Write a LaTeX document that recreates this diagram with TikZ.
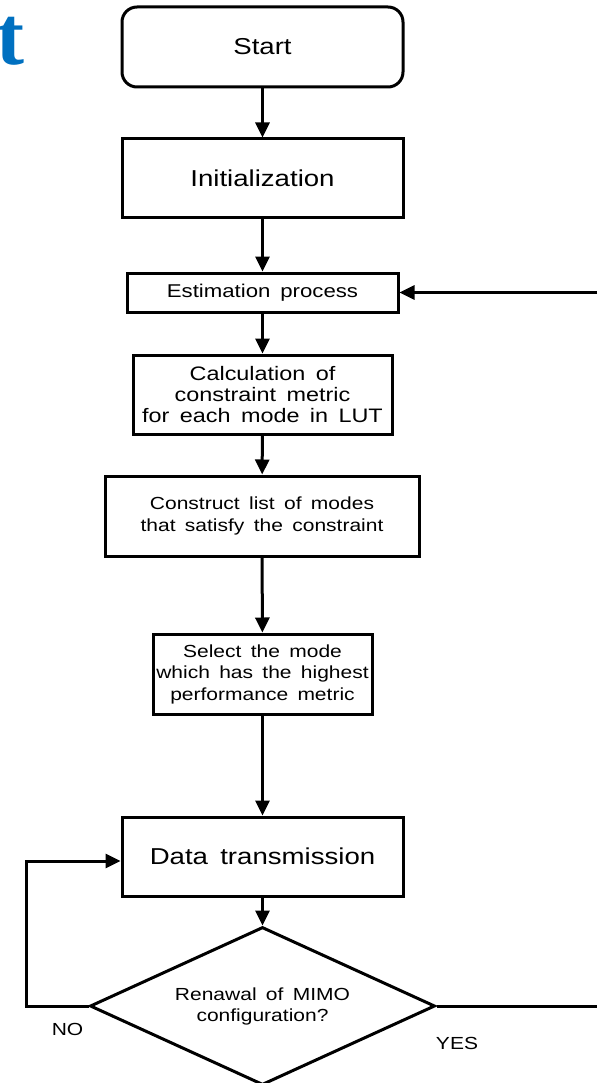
\documentclass[tikz,border=0pt]{standalone}
\usepackage{fontspec}
\setmainfont{Liberation Sans}[FakeStretch=1.2, WordSpace=1.6]
\newfontfamily\tfont{Liberation Serif}
\usetikzlibrary{shapes.geometric,arrows.meta}
\definecolor{titleblue}{RGB}{0,112,192}
\begin{document}
\begin{tikzpicture}[x=1pt,y=-1pt,
  box/.style={draw, line width=3pt, rectangle, inner sep=0pt, align=center},
  arr/.style={line width=3pt, -{Triangle[length=15pt,width=14pt]}},
  ln/.style={line width=3pt},
  lbl/.style={inner sep=0pt, font=\fontsize{17.5}{21}\selectfont}]
\useasboundingbox (0,0) rectangle (597,1083);
\node[inner sep=0pt, anchor=base east, text=titleblue, font=\tfont\bfseries\fontsize{84}{84}\selectfont] (ttl) at (25,65) {t};
\node[box, rounded corners=15pt, minimum width=281pt, minimum height=80pt, font=\fontsize{23}{26}\selectfont] (start) at (262.5,47) {Start};
\node[box, minimum width=281pt, minimum height=79pt, font=\fontsize{23}{26}\selectfont] (init) at (262.5,178.5) {Initialization};
\node[box, minimum width=271pt, minimum height=39pt, font=\fontsize{18.5}{21}\selectfont] (est) at (262.5,292.5) {Estimation process};
\node[box, minimum width=259pt, minimum height=79pt, font=\fontsize{19.5}{21}\selectfont] (calc) at (262.5,394.5) {Calculation of\\constraint metric\\for each mode in LUT};
\node[box, minimum width=314pt, minimum height=80pt, font=\fontsize{17.5}{22}\selectfont] (cons) at (262,516) {Construct list of modes\\that satisfy the constraint};
\node[box, minimum width=219pt, minimum height=80pt, font=\fontsize{17.5}{21.5}\selectfont] (sel) at (262.5,674) {Select the mode\\which has the highest\\performance metric};
\node[box, minimum width=281pt, minimum height=79pt, font=\fontsize{23}{26}\selectfont] (data) at (262.5,856.5) {Data transmission};
\node[draw, line width=3pt, diamond, aspect=2.18, inner sep=0pt, minimum width=345pt, minimum height=158pt, align=center, font=\fontsize{17.5}{21}\selectfont] (dec) at (262.5,1006) {Renawal of MIMO\\configuration?};
\node[lbl] (no) at (67.5,1029) {NO};
\node[lbl] (yes) at (457,1043) {YES};
\coordinate (fb) at (597,292.5);
\coordinate (nl) at (26,1006);
\coordinate (nu) at (26,861);
\coordinate (ye) at (597,1006);
\draw[arr] (start) -- (init);
\draw[arr] (init) -- (est);
\draw[arr] (est) -- (calc);
\draw[arr] (calc) -- (cons);
\draw[arr] (cons) -- (sel);
\draw[arr] (sel) -- (data);
\draw[arr] (data) -- (dec);
\draw[arr] (fb) -- (est.east);
\draw[arr] (dec.west) -- (nl) -- (nu) -- (nu -| data.west);
\draw[ln] (dec.east) -- (ye);
\end{tikzpicture}
\end{document}
